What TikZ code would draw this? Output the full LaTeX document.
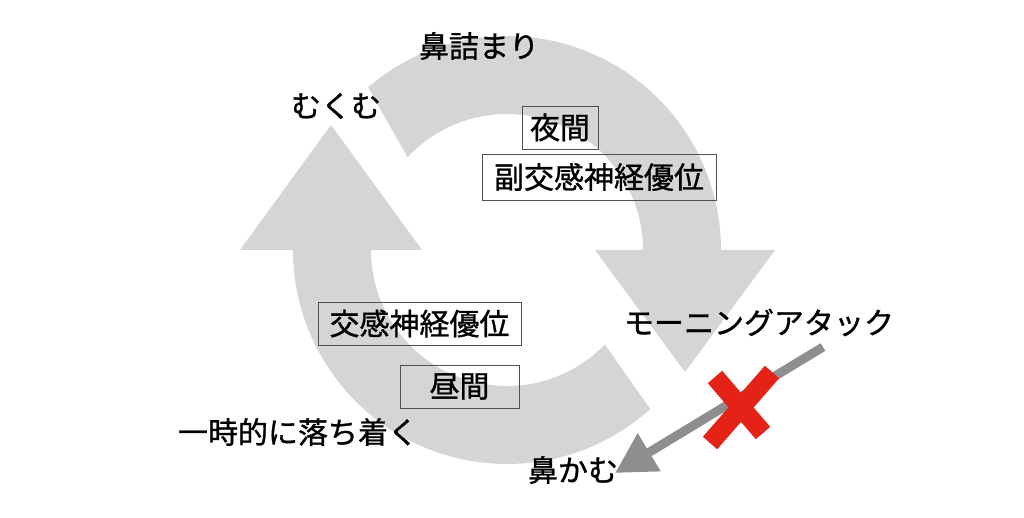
\documentclass[tikz,border=0pt]{standalone}
\usepackage{fontspec}
\setmainfont{Noto Sans CJK JP}[FakeBold=1]
\usetikzlibrary{arrows.meta}
\definecolor{cyclegray}{RGB}{213,213,213}
\definecolor{arrowgray}{RGB}{142,142,142}
\definecolor{boxline}{RGB}{80,80,80}
\definecolor{crossred}{RGB}{228,34,24}
\tikzset{
  lbl/.style={font=\fontsize{30pt}{36pt}\selectfont, inner sep=0pt, text=black},
  framed/.style={lbl, draw=boxline, line width=0.9pt}
}
\begin{document}
\begin{tikzpicture}[x=1pt,y=1pt]
\useasboundingbox (0,0) rectangle (1024,518);
% top arc with down arrow
\fill[cyclegray] ([shift={(507,268)}]130.5:214) arc[start angle=130.5, end angle=0, radius=214]
  -- (775,268) -- (685,146) -- (595,268) -- (643,268)
  arc[start angle=0, end angle=137, radius=136] -- cycle;
% bottom arc with up arrow
\fill[cyclegray] (293,268) -- (240,268) -- (331,393) -- (422,268) -- (371,268)
  arc[start angle=180, end angle=316, radius=136]
  -- ([shift={(507,268)}]312:214) arc[start angle=312, end angle=180, radius=214] -- cycle;
% labels
\node[lbl] (hanazumari) at (479,472) {鼻詰まり};
\node[lbl] (mukumu) at (336,412) {むくむ};
\node[framed, minimum width=76pt, minimum height=43pt] (yakan) at (560,390.5) {夜間};
\node[framed, minimum width=234pt, minimum height=46pt] (fukukoukan) at (599,341) {副交感神経優位};
\node[framed, minimum width=203pt, minimum height=43pt] (koukan) at (419.5,194.5) {交感神経優位};
\node[framed, minimum width=119pt, minimum height=43pt] (hiruma) at (459.5,131.5) {昼間};
\node[lbl] (ochitsuku) at (298,86) {一時的に落ち着く};
\node[lbl] (hanakamu) at (573,48) {鼻かむ};
\node[lbl] (morning) at (759,195.5) {モーニングアタック};
% gray arrow
\coordinate (astart) at (823,171);
\coordinate (aend) at (615,45);
\draw[arrowgray, line width=9pt, -{Triangle[length=40pt, width=42pt]}] (astart) -- (aend);
% red cross
\coordinate (x1a) at (715,141);
\coordinate (x1b) at (763,85);
\coordinate (x2a) at (772,146);
\coordinate (x2b) at (710,75);
\draw[crossred, line width=19pt] (x1a) -- (x1b);
\draw[crossred, line width=19pt] (x2a) -- (x2b);
\end{tikzpicture}
\end{document}
